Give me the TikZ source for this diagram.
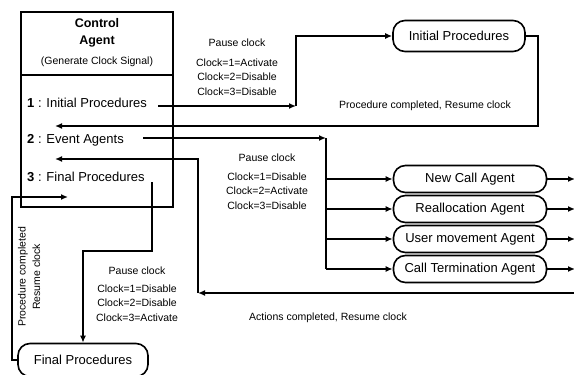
\documentclass[tikz,border=0pt]{standalone}
\usepackage{fontspec}
\setmainfont{Liberation Sans}
\usetikzlibrary{arrows.meta}
\begin{document}
\begin{tikzpicture}[x=1pt,y=-1pt,
  line/.style={line width=1.6pt},
  arr/.style={line width=1.6pt,-{Latex[length=7pt,width=6pt]}},
  agent/.style={draw,line width=1.6pt,rounded corners=12pt,minimum height=27pt,minimum width=153pt,inner sep=0pt,font=\fontsize{13}{15}\selectfont},
  lbl/.style={font=\fontsize{10.5}{14.5}\selectfont,align=center,inner sep=0pt},
  item/.style={anchor=west,inner sep=0pt,font=\fontsize{13}{15}\selectfont}]
\useasboundingbox (0,0) rectangle (574,375);
% control agent box
\node[draw,line width=1.6pt,minimum width=152pt,minimum height=195pt,inner sep=0pt] (ca) at (97,109.5) {};
\coordinate (dl) at (21,75); \coordinate (dr) at (173,75);
\draw[line] (dl) -- (dr);
\node[align=center,inner sep=0pt,font=\fontsize{12.5}{17}\selectfont\bfseries] (tt) at (97,33) {Control\\Agent};
\node[lbl] (gs) at (97,62) {(Generate Clock Signal)};
\node[item] (t1) at (27,103) {\textbf{1} : Initial Procedures};
\node[item] (t2) at (27,140) {\textbf{2} : Event Agents};
\node[item] (t3) at (27,177) {\textbf{3} : Final Procedures};
% process nodes
\node[agent,minimum width=132pt,minimum height=31pt] (ip) at (459,36) {Initial Procedures};
\node[agent] (nc) at (470,179) {New Call Agent};
\node[agent] (ra) at (470,209) {Reallocation Agent};
\node[agent] (um) at (470,239) {User movement Agent};
\node[agent] (ct) at (470,269) {Call Termination Agent};
\node[agent,minimum width=130pt,minimum height=33pt] (fp) at (83,360) {Final Procedures};
% initial procedures
\coordinate (s1) at (158,106); \coordinate (c1) at (296,106);
\draw[arr] (s1) -- (c1);
\draw[arr] (c1) |- (ip.west);
\coordinate (r1) at (538,126); \coordinate (e1) at (55,126);
\draw[arr] (ip.east) -| (r1) -- (e1);
% event agents
\coordinate (s2) at (143,138); \coordinate (c2) at (326,138); \coordinate (b2) at (326,269);
\draw[arr] (s2) -- (c2);
\draw[line] (c2) -- (b2);
\coordinate (ox) at (575,0);
\foreach \n in {nc,ra,um,ct}{
  \draw[arr] (c2 |- \n.west) -- (\n.west);
  \draw[arr] (\n.east) -- (\n.east -| ox);
}
\coordinate (a1) at (576,293); \coordinate (a2) at (198,293);
\coordinate (a3) at (198,159); \coordinate (e2) at (55,159);
\draw[arr] (a1) -- (a2);
\draw[arr] (a2) -- (a3) -- (e2);
% final procedures
\coordinate (s3) at (152,182); \coordinate (c3) at (152,251);
\draw[arr] (s3) -- (c3) -| (fp.north);
\coordinate (f1) at (12,360); \coordinate (f2) at (12,197); \coordinate (e3) at (68,197);
\draw[arr] (fp.west) -- (f1) -- (f2) -- (e3);
% labels
\node[lbl] (p1) at (237,43) {Pause clock};
\node[lbl] (k1) at (237,77) {Clock=1=Activate\\Clock=2=Disable\\Clock=3=Disable};
\node[lbl] (pc1) at (425,106) {Procedure completed, Resume clock};
\node[lbl] (p2) at (267,158) {Pause clock};
\node[lbl] (k2) at (267,191) {Clock=1=Disable\\Clock=2=Activate\\Clock=3=Disable};
\node[lbl] (acl) at (328,318) {Actions completed, Resume clock};
\node[lbl] (p3) at (137,271) {Pause clock};
\node[lbl] (k3) at (137,303) {Clock=1=Disable\\Clock=2=Disable\\Clock=3=Activate};
\node[lbl,rotate=90] (pr) at (29,277) {Procedure completed\\Resume clock};
\end{tikzpicture}
\end{document}
